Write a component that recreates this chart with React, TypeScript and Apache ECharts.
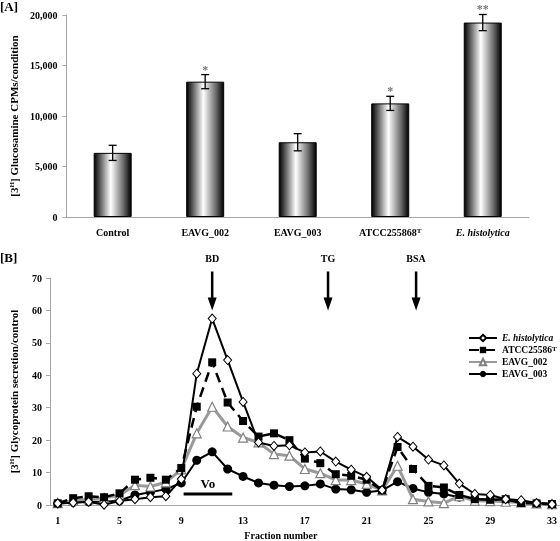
import React, { useEffect, useRef } from 'react';
import * as echarts from 'echarts';

// ---------- Panel A data ----------
const barCategories = ['Control', 'EAVG_002', 'EAVG_003', 'ATCC255868T', 'E. histolytica'];
const barValues = [6350, 13400, 7400, 11250, 19250];
const barErrors = [750, 700, 850, 700, 800];
const barSignif = ['', '*', '', '*', '**'];

// ---------- Panel B data ----------
const fractions = ['1','2','3','4','5','6','7','8','9','10','11','12','13','14','15','16','17','18','19','20','21','22','23','24','25','26','27','28','29','30','31','32','33'];
const ehistValues = [0.5,0.7,1.0,0.1,1.2,1.8,2.4,2.7,8.0,40.5,57.5,44.7,31.8,19.3,18.2,18.4,16.2,16.5,13.4,10.9,8.7,4.6,21.0,18.0,14.0,12.2,6.6,3.4,3.1,1.8,1.5,0.6,0.2];
const atccValues = [0.5,2.1,2.7,2.4,3.6,7.8,8.4,7.8,11.4,30.3,44.0,31.6,25.9,21.1,22.1,20.0,14.3,12.9,9.5,9.0,7.8,4.5,17.9,11.1,5.9,5.4,3.1,1.8,1.6,1.8,0.6,0.5,0.3];
const eavg002Values = [0.6,1.3,1.8,2.2,3.0,6.1,5.7,7.0,11.0,22.1,30.3,24.2,20.8,19.3,15.7,15.2,11.1,9.8,7.7,7.7,6.5,4.5,12.1,1.8,1.1,0.6,2.7,1.3,1.2,1.0,0.8,0.5,0.3];
const eavg003Values = [0.5,0.8,1.0,1.0,1.3,3.1,3.9,4.9,6.8,13.8,16.4,11.1,8.8,6.8,6.1,5.7,5.9,6.5,4.9,4.7,3.9,4.5,7.2,5.1,3.9,3.4,2.4,1.8,1.6,1.6,0.8,0.5,0.1];
const seriesNames = ['E. histolytica', 'ATCC25586T', 'EAVG_002', 'EAVG_003'];

// markers (fraction, data value)
const arrowLabels = ['BD', 'TG', 'BSA'];
const arrowFractions = [11, 18.5, 24.2];
const arrowTopValue = 72;
const arrowTipValue = 60;
const arrowTextValue = 76;
const voStart = 9.15;
const voEnd = 12.3;
const voValue = 3.4;

const FONT = '"Liberation Serif", "Times New Roman", serif';
const supRich = {
  sup: { fontSize: 7, fontWeight: 'bold', fontFamily: FONT, verticalAlign: 'top', color: '#000' },
  it: { fontStyle: 'italic', fontWeight: 'bold', fontFamily: FONT, color: '#000' },
};

function catFormatter(name: string) {
  if (name === 'ATCC255868T') return 'ATCC255868{sup|T}';
  if (name === 'ATCC25586T') return 'ATCC25586{sup|T}';
  if (name === 'E. histolytica') return '{it|E. histolytica}';
  return name;
}

export default function App() {
  const ref = useRef<HTMLDivElement>(null);
  useEffect(() => {
    if (!ref.current) return;
    const chart = echarts.init(ref.current, undefined, { renderer: 'svg' });
    const axisGrey = '#a6a6a6';
    const barGradient = new echarts.graphic.LinearGradient(0, 0, 1, 0, [
      { offset: 0, color: '#000' },
      { offset: 0.12, color: '#444' },
      { offset: 0.45, color: '#fff' },
      { offset: 0.8, color: '#666' },
      { offset: 1, color: '#000' },
    ]);
    const option: any = {
      animation: false,
      textStyle: { fontFamily: FONT },
      grid: [
        { left: 63, width: 466, top: 15, height: 202 },
        { left: 49, width: 511, top: 278, height: 228 },
      ],
      xAxis: [
        {
          gridIndex: 0, type: 'category', data: barCategories,
          axisLine: { lineStyle: { color: axisGrey } },
          axisTick: { lineStyle: { color: axisGrey }, length: 4 },
          axisLabel: { color: '#000', fontWeight: 'bold', fontSize: 10, fontFamily: FONT, margin: 10, interval: 0, formatter: catFormatter, rich: supRich },
        },
        {
          gridIndex: 1, type: 'category', data: fractions, boundaryGap: true,
          axisLine: { lineStyle: { color: axisGrey } },
          axisTick: { lineStyle: { color: axisGrey }, length: 4, interval: 0 },
          axisLabel: { color: '#000', fontWeight: 'bold', fontSize: 10, fontFamily: FONT, margin: 10, interval: 3 },
          name: 'Fraction number', nameLocation: 'middle', nameGap: 25,
          nameTextStyle: { color: '#000', fontWeight: 'bold', fontSize: 10, fontFamily: FONT, padding: [0, 48, 0, 0] },
        },
      ],
      yAxis: [
        {
          gridIndex: 0, type: 'value', min: 0, max: 20000, interval: 5000,
          splitLine: { show: false },
          axisLine: { show: true, lineStyle: { color: axisGrey } },
          axisTick: { show: true, lineStyle: { color: axisGrey }, length: 4 },
          axisLabel: { color: '#000', fontWeight: 'bold', fontSize: 10, fontFamily: FONT, margin: 9, formatter: (v: number) => v.toLocaleString('en-US') },
          name: '[3{sup|H}] Glucosamine CPMs/condition', nameLocation: 'middle', nameRotate: 90, nameGap: 45,
          nameTextStyle: { color: '#000', fontWeight: 'bold', fontSize: 11, fontFamily: FONT, rich: supRich },
        },
        {
          gridIndex: 1, type: 'value', min: 0, max: 70, interval: 10,
          splitLine: { show: false },
          axisLine: { show: true, lineStyle: { color: axisGrey } },
          axisTick: { show: true, lineStyle: { color: axisGrey }, length: 4 },
          axisLabel: { color: '#000', fontWeight: 'bold', fontSize: 10, fontFamily: FONT, margin: 8 },
          name: '[3{sup|H}] Glycoprotein secretion/control', nameLocation: 'middle', nameRotate: 90, nameGap: 31,
          nameTextStyle: { color: '#000', fontWeight: 'bold', fontSize: 11, fontFamily: FONT, rich: supRich },
        },
      ],
      legend: {
        orient: 'vertical', left: 463, top: 328, itemWidth: 28, itemHeight: 8, itemGap: 2,
        data: seriesNames,
        formatter: catFormatter,
        textStyle: { color: '#000', fontWeight: 'bold', fontSize: 9.5, fontFamily: FONT, rich: supRich },
      },
      series: [
        {
          type: 'bar', xAxisIndex: 0, yAxisIndex: 0, data: barValues, barWidth: 38,
          itemStyle: { color: barGradient, borderColor: '#000', borderWidth: 1 },
        },
        {
          type: 'custom', xAxisIndex: 0, yAxisIndex: 0,
          data: barValues.map((v, i) => [i, v - barErrors[i], v + barErrors[i]]),
          z: 5,
          renderItem: (params: any, api: any) => {
            const x = api.value(0);
            const lo = api.coord([x, api.value(1)]);
            const hi = api.coord([x, api.value(2)]);
            const h = 4;
            const st = { stroke: '#000', lineWidth: 1.3 };
            const sig = barSignif[params.dataIndex];
            const children: any[] = [
              { type: 'line', shape: { x1: lo[0], y1: lo[1], x2: hi[0], y2: hi[1] }, style: st },
              { type: 'line', shape: { x1: lo[0] - h, y1: lo[1], x2: lo[0] + h, y2: lo[1] }, style: st },
              { type: 'line', shape: { x1: hi[0] - h, y1: hi[1], x2: hi[0] + h, y2: hi[1] }, style: st },
            ];
            if (sig) {
              children.push({
                type: 'text', x: hi[0], y: hi[1] - 11,
                style: { text: sig, textAlign: 'center', textVerticalAlign: 'top', fill: '#777', font: `bold 12px ${FONT}` },
              });
            }
            return { type: 'group', children };
          },
        },
        {
          name: 'EAVG_003', type: 'line', xAxisIndex: 1, yAxisIndex: 1, data: eavg003Values,
          symbol: 'circle', symbolSize: 9, z: 3,
          itemStyle: { color: '#000' }, lineStyle: { color: '#000', width: 2 },
        },
        {
          name: 'EAVG_002', type: 'line', xAxisIndex: 1, yAxisIndex: 1, data: eavg002Values,
          symbol: 'triangle', symbolSize: 9, z: 4,
          itemStyle: { color: '#fff', borderColor: '#808080', borderWidth: 1.2 }, lineStyle: { color: '#9a9a9a', width: 3 },
        },
        {
          name: 'ATCC25586T', type: 'line', xAxisIndex: 1, yAxisIndex: 1, data: atccValues,
          symbol: 'rect', symbolSize: 8, z: 5,
          itemStyle: { color: '#000' }, lineStyle: { color: '#000', width: 2.5, type: [10, 6] },
        },
        {
          name: 'E. histolytica', type: 'line', xAxisIndex: 1, yAxisIndex: 1, data: ehistValues,
          symbol: 'diamond', symbolSize: [8, 9], z: 6,
          itemStyle: { color: '#fff', borderColor: '#000', borderWidth: 1 }, lineStyle: { color: '#000', width: 2 },
        },
      ],
    };
    chart.setOption(option);

    const px = (f: number, v: number) => {
      const a = chart.convertToPixel({ gridIndex: 1 } as any, [0, v]) as number[];
      const b = chart.convertToPixel({ gridIndex: 1 } as any, [1, v]) as number[];
      return [a[0] + (f - 1) * (b[0] - a[0]), a[1]];
    };
    const graphics: any[] = [
      { type: 'text', left: 0, top: 0, style: { text: '[A]', font: `bold 13px ${FONT}`, fill: '#000' } },
      { type: 'text', left: 0, top: 251, style: { text: '[B]', font: `bold 13px ${FONT}`, fill: '#000' } },
    ];
    arrowLabels.forEach((lab, i) => {
      const f = arrowFractions[i];
      const top = px(f, arrowTopValue);
      const tip = px(f, arrowTipValue);
      const txt = px(f, arrowTextValue);
      graphics.push({ type: 'line', shape: { x1: top[0], y1: top[1], x2: tip[0], y2: tip[1] - 12 }, style: { stroke: '#000', lineWidth: 2.5 } });
      graphics.push({ type: 'polygon', shape: { points: [[tip[0] - 4.5, tip[1] - 13], [tip[0] + 4.5, tip[1] - 13], [tip[0], tip[1]]] }, style: { fill: '#000' } });
      graphics.push({ type: 'text', x: txt[0], y: txt[1], style: { text: lab, textAlign: 'center', textVerticalAlign: 'middle', font: `bold 10px ${FONT}`, fill: '#000' } });
    });
    const v0 = px(voStart, voValue);
    const v1 = px(voEnd, voValue);
    graphics.push({ type: 'line', shape: { x1: v0[0], y1: v0[1], x2: v1[0], y2: v1[1] }, style: { stroke: '#000', lineWidth: 3 } });
    graphics.push({ type: 'text', x: (v0[0] + v1[0]) / 2, y: v0[1] - 4, style: { text: 'Vo', textAlign: 'center', textVerticalAlign: 'bottom', font: `bold 13px ${FONT}`, fill: '#000' } });
    chart.setOption({ graphic: graphics });

    return () => chart.dispose();
  }, []);
  return <div ref={ref} style={{ position: 'fixed', left: 0, top: 0, width: 560, height: 541 }} />;
}
